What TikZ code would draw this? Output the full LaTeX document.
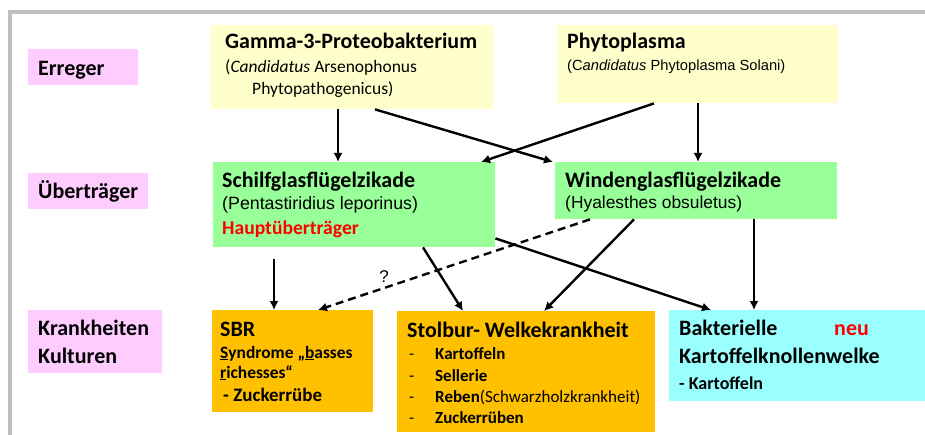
\documentclass[tikz,border=0pt]{standalone}
\usepackage{fontspec}
\setmainfont{Carlito}
\newfontfamily\arialf{Liberation Sans}
\usetikzlibrary{arrows.meta}
\definecolor{yel}{HTML}{FFFFCC}
\definecolor{grn}{HTML}{99FF99}
\definecolor{org}{HTML}{FFC000}
\definecolor{cyn}{HTML}{99FFFF}
\definecolor{pnk}{HTML}{FFCCFF}
\definecolor{frm}{HTML}{BFBFBF}
\definecolor{rd}{HTML}{FF0000}
\tikzset{
  box/.style={rectangle, draw=none, anchor=north west, inner sep=0pt},
  txt/.style={anchor=base west, inner sep=0pt, align=left},
  head/.style={txt, font=\fontsize{22}{26}\selectfont\bfseries},
  arr/.style={line width=2.4pt, -{Latex[length=9pt,width=9pt]}},
  darr/.style={arr, dash pattern=on 8pt off 5pt},
}
\begin{document}
\begin{tikzpicture}[x=1pt,y=-1pt]
\useasboundingbox (0,0) rectangle (925,435);
\fill[white] (0,0) rectangle (925,435);
\draw[frm, line width=4pt] (10,437) -- (10,12) -- (927,12);

% category labels
\node[box, fill=pnk, minimum width=110pt, minimum height=36pt] (l1) at (28,49) {};
\node[head] (l1t) at (38,76) {Erreger};
\node[box, fill=pnk, minimum width=120pt, minimum height=36pt] (l2) at (28,173) {};
\node[head] (l2t) at (38,199) {Überträger};
\node[box, fill=pnk, minimum width=134pt, minimum height=63pt] (l3) at (28,310) {};
\node[head] (l3t) at (38,335) {Krankheiten};
\node[head] (l3u) at (38,363) {Kulturen};

% Erreger
\node[box, fill=yel, minimum width=282pt, minimum height=84pt] (gamma) at (211,25) {};
\node[head] (gammat) at (225,49) {Gamma-3-Proteobakterium};
\node[txt, font=\fontsize{17.5}{21}\selectfont] (gamma1) at (225,73) {(\textit{Candidatus} Arsenophonus};
\node[txt, font=\fontsize{17.5}{21}\selectfont] (gamma2) at (252,95) {Phytopathogenicus)};

\node[box, fill=yel, minimum width=281pt, minimum height=78pt] (phyto) at (557,25) {};
\node[head] (phytot) at (567,49) {Phytoplasma};
\node[txt, font=\fontsize{14.7}{18}\selectfont\arialf] (phyto1) at (567,71) {(C\textit{andidatus} Phytoplasma Solani)};

% Ueberträger
\node[box, fill=grn, minimum width=282pt, minimum height=85pt] (schilf) at (213,162) {};
\node[head] (schilft) at (222,188) {Schilfglasflügelzikade};
\node[txt, font=\fontsize{17.8}{21}\selectfont\arialf] (schilf1) at (222,210) {(Pentastiridius leporinus)};
\node[txt, font=\fontsize{19.6}{23}\selectfont\bfseries, text=rd] (schilf2) at (222,235) {Hauptüberträger};

\node[box, fill=grn, minimum width=282pt, minimum height=57pt] (winden) at (555,162) {};
\node[head] (windent) at (565,188) {Windenglasflügelzikade};
\node[txt, font=\fontsize{17.4}{21}\selectfont\arialf] (winden1) at (565,209) {(Hyalesthes obsuletus)};

% Krankheiten
\node[box, fill=org, minimum width=161pt, minimum height=102pt] (sbr) at (212,310) {};
\node[head] (sbrt) at (220,336) {SBR};
\node[txt, font=\fontsize{17.4}{21}\selectfont\bfseries] (sbr1) at (220,358) {\underline{S}yndrome „\underline{b}asses};
\node[txt, font=\fontsize{17.4}{21}\selectfont\bfseries] (sbr2) at (220,378) {\underline{r}ichesses“};
\node[txt, font=\fontsize{19}{23}\selectfont\bfseries] (sbr3) at (223,401) {- Zuckerrübe};

\node[box, fill=org, minimum width=258pt, minimum height=121pt] (stol) at (397,311) {};
\node[head] (stolt) at (407,337) {Stolbur- Welkekrankheit};
\node[txt, font=\fontsize{17}{20}\selectfont] (sd1) at (409,359) {-};
\node[txt, font=\fontsize{17}{20}\selectfont\bfseries] (si1) at (435,359) {Kartoffeln};
\node[txt, font=\fontsize{17}{20}\selectfont] (sd2) at (409,381) {-};
\node[txt, font=\fontsize{17}{20}\selectfont\bfseries] (si2) at (435,381) {Sellerie};
\node[txt, font=\fontsize{17}{20}\selectfont] (sd3) at (409,402) {-};
\node[txt, font=\fontsize{17}{20}\selectfont] (si3) at (435,402) {\textbf{Reben}(Schwarzholzkrankheit)};
\node[txt, font=\fontsize{17}{20}\selectfont] (sd4) at (409,423) {-};
\node[txt, font=\fontsize{17}{20}\selectfont\bfseries] (si4) at (435,423) {Zuckerrüben};

\node[box, fill=cyn, minimum width=256pt, minimum height=91pt] (cyan) at (669,310) {};
\node[head] (cyant) at (679,335) {Bakterielle};
\node[head, text=rd] (neu) at (834,335) {neu};
\node[head] (cyan1) at (679,363) {Kartoffelknollenwelke};
\node[txt, font=\fontsize{18}{21}\selectfont\bfseries] (cyan2) at (679,389) {- Kartoffeln};

% connectors
\draw[arr] ([xshift=127pt]gamma.south west) -- ([xshift=125pt]schilf.north west);
\draw[arr] ([xshift=164pt]gamma.south west) -- ([xshift=-2pt]winden.north west);
\draw[arr] ([xshift=97pt]phyto.south west) -- ([xshift=268pt]schilf.north west);
\draw[arr] ([xshift=141pt]phyto.south west) -- ([xshift=143pt]winden.north west);

\draw[arr] ([xshift=61pt,yshift=-12pt]schilf.south west) -- ([xshift=62pt]sbr.north west);
\draw[darr] ([xshift=35pt]winden.south west) -- ([xshift=106pt]sbr.north west);
\draw[arr] ([xshift=210pt]schilf.south west) -- ([xshift=66pt]stol.north west);
\draw[arr] ([xshift=79pt]winden.south west) -- ([xshift=147pt]stol.north west);
\draw[arr] ([yshift=9pt]schilf.south east) -- ([xshift=42pt]cyan.north west);
\draw[arr] ([xshift=199pt]winden.south west) -- ([xshift=85pt]cyan.north west);

\node[font=\fontsize{17}{20}\selectfont\arialf, inner sep=0pt] (q) at (384,277) {?};
\end{tikzpicture}
\end{document}
